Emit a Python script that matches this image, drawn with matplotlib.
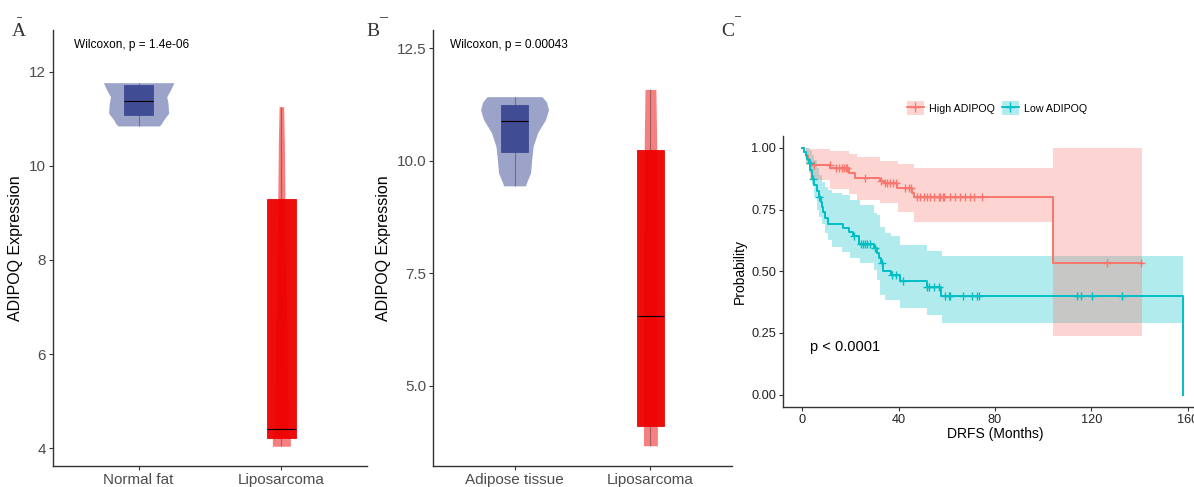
import numpy as np
import matplotlib
matplotlib.use("Agg")
import matplotlib.pyplot as plt
from matplotlib.lines import Line2D
from matplotlib.patches import Patch

plt.rcParams["font.family"] = ["Liberation Sans", "DejaVu Sans"]

W, H = 1194, 487

# ---- panel A / B : violin + box data ----
a_groups = ["Normal fat", "Liposarcoma"]
a_box = [(11.08, 11.38, 11.71), (4.21, 4.40, 9.30)]       # q1, median, q3
a_violin_y = [
    [10.85, 10.90, 10.98, 11.12, 11.33, 11.47, 11.62, 11.77],
    [4.04, 4.21, 4.30, 9.20, 9.30, 10.50, 11.26],
]
a_violin_hw = [
    [0.145, 0.160, 0.175, 0.210, 0.206, 0.197, 0.224, 0.247],
    [0.063, 0.063, 0.050, 0.026, 0.025, 0.021, 0.016],
]
a_p = "Wilcoxon, p = 1.4e-06"

b_groups = ["Adipose tissue", "Liposarcoma"]
b_box = [(10.20, 10.87, 11.24), (4.11, 6.56, 10.23)]
b_violin_y = [
    [9.44, 9.54, 9.73, 10.02, 10.32, 10.62, 10.91, 11.13, 11.30, 11.42],
    [3.67, 4.10, 4.20, 10.20, 10.30, 11.58],
]
b_violin_hw = [
    [0.080, 0.092, 0.118, 0.126, 0.137, 0.170, 0.228, 0.250, 0.235, 0.202],
    [0.051, 0.051, 0.050, 0.047, 0.046, 0.040],
]
b_p = "Wilcoxon, p = 0.00043"

group_colors = ["#3B4992", "#EE0000"]

# ---- panel C : Kaplan-Meier data ----
hi_t = [0, 0.8, 1.6, 2.4, 3.2, 4.0, 11.6, 19.3, 22.0, 32.4, 33.8, 39.5, 45.6, 46.4, 104.0]
hi_s = [1.0, 0.984, 0.968, 0.952, 0.938, 0.930, 0.918, 0.897, 0.877, 0.864, 0.856, 0.837, 0.818, 0.800, 0.533]
hi_end = 141.0
hi_cens = [5.0, 11.5, 13.8, 15.2, 16.5, 17.5, 18.0, 18.6, 26.2, 32.8, 34.5, 35.3, 36.6, 37.8,
           39.0, 42.8, 44.1, 45.1, 47.6, 49.0, 50.7, 51.8, 53.2, 54.6, 56.6, 57.3, 58.4, 59.0,
           61.5, 63.6, 65.6, 67.7, 69.5, 71.2, 74.6, 126.6, 140.6]
hi_ci_t = [0, 1.6, 3.2, 11.6, 19.3, 22.7, 32.4, 39.8, 46.3, 104.0, 141.0]
hi_ci_up = [1.0, 1.0, 0.995, 0.988, 0.975, 0.962, 0.948, 0.934, 0.920, 1.0, 1.0]
hi_ci_lo = [1.0, 0.93, 0.87, 0.835, 0.815, 0.79, 0.775, 0.742, 0.698, 0.239, 0.239]

lo_t = [0, 0.7, 1.4, 2.1, 2.8, 3.4, 4.0, 5.0, 6.0, 7.0, 7.6, 8.2, 8.8, 9.4, 10.5, 16.8, 19.2,
        21.0, 23.6, 29.9, 31.2, 32.0, 32.8, 33.6, 36.8, 40.7, 51.8, 57.6, 158.2]
lo_s = [1.0, 0.985, 0.97, 0.955, 0.94, 0.91, 0.875, 0.85, 0.825, 0.80, 0.78, 0.76, 0.74, 0.715,
        0.69, 0.675, 0.66, 0.645, 0.61, 0.595, 0.575, 0.555, 0.535, 0.50, 0.485, 0.459, 0.436,
        0.401, 0.0]
lo_cens = [3.0, 4.3, 7.0, 21.3, 24.4, 25.2, 26.2, 26.9, 28.3, 30.3, 33.1, 37.3, 39.0, 41.8,
           51.8, 52.5, 54.6, 56.6, 59.4, 60.8, 61.5, 66.8, 70.5, 72.6, 73.3, 114.1, 115.5,
           120.4, 132.8]
lo_ci_t = [0, 1.4, 2.8, 4.0, 5.0, 6.0, 7.0, 8.2, 9.6, 10.5, 12.3, 16.5, 19.9, 24.1, 29.9, 31.0,
           32.4, 34.5, 36.8, 40.7, 51.8, 58.0, 158.2]
lo_ci_lo = [1.0, 0.94, 0.9, 0.85, 0.8, 0.75, 0.72, 0.69, 0.655, 0.625, 0.6, 0.58, 0.553, 0.533,
            0.506, 0.466, 0.405, 0.385, 0.385, 0.351, 0.324, 0.29, 0.29]
lo_ci_up = [1.0, 1.0, 0.99, 0.97, 0.95, 0.92, 0.89, 0.86, 0.84, 0.83, 0.818, 0.81, 0.79, 0.77,
            0.736, 0.729, 0.68, 0.655, 0.642, 0.607, 0.584, 0.56, 0.56]

km_labels = ["High ADIPOQ", "Low ADIPOQ"]
km_colors = ["#F8766D", "#00BFC4"]

fig = plt.figure(figsize=(W / 100, H / 100), dpi=100)


def style_axes(ax, tick_size, tick_color):
    for s in ["top", "right"]:
        ax.spines[s].set_visible(False)
    for s in ["left", "bottom"]:
        ax.spines[s].set_color("#333333")
        ax.spines[s].set_linewidth(1.0)
    ax.tick_params(length=3, width=0.8, color="#333333", labelsize=tick_size,
                   labelcolor=tick_color, pad=2)


def violin_panel(ax, groups, boxes, vys, vhws, ptxt, ylim, yticks, ylabels):
    for i, (name, box, vy, vhw) in enumerate(zip(groups, boxes, vys, vhws)):
        pos = i + 1
        col = group_colors[i]
        vy = np.array(vy)
        vhw = np.array(vhw)
        ax.fill_betweenx(vy, pos - vhw, pos + vhw, color=col, alpha=0.5, lw=0, zorder=1)
        ax.vlines(pos, vy.min(), vy.max(), color="#333333", alpha=0.45, lw=0.8, zorder=2)
        q1, med, q3 = box
        ax.bar(pos, q3 - q1, bottom=q1, width=0.2, color=col, alpha=0.95,
               edgecolor=col, linewidth=0.6, zorder=3)
        ax.hlines(med, pos - 0.1, pos + 0.1, color="black", lw=0.8, zorder=4)
    ax.set_xlim(0.4, 2.6)
    ax.set_ylim(*ylim)
    ax.set_xticks([1, 2])
    ax.set_xticklabels(groups)
    ax.set_yticks(yticks)
    ax.set_yticklabels(ylabels)
    ax.set_ylabel("ADIPOQ Expression", fontsize=11.5, labelpad=4)
    style_axes(ax, 11, "#4D4D4D")
    return ax


axA = fig.add_axes([53 / W, 21 / H, 314 / W, 436 / H])
violin_panel(axA, a_groups, a_box, a_violin_y, a_violin_hw, a_p, (3.62, 12.89),
             [4, 6, 8, 10, 12], ["4", "6", "8", "10", "12"])
axA.text(0.547, 12.57, a_p, fontsize=8.6, va="center", ha="left")

axB = fig.add_axes([433 / W, 21 / H, 299 / W, 436 / H])
violin_panel(axB, b_groups, b_box, b_violin_y, b_violin_hw, b_p, (3.22, 12.9),
             [5.0, 7.5, 10.0, 12.5], ["5.0", "7.5", "10.0", "12.5"])
axB.text(0.525, 12.57, b_p, fontsize=8.6, va="center", ha="left")

# ---- panel C ----
axC = fig.add_axes([783 / W, 80 / H, 424 / W, 271.4 / H])
km = [
    (hi_t, hi_s, hi_end, hi_cens, hi_ci_t, hi_ci_lo, hi_ci_up),
    (lo_t, lo_s, None, lo_cens, lo_ci_t, lo_ci_lo, lo_ci_up),
]
# bands first (low under high)
for k in [1, 0]:
    t, s, end, cens, ct, clo, cup = km[k]
    axC.fill_between(ct, clo, cup, step="post", color=km_colors[k], alpha=0.3, lw=0, zorder=1)
for k in [0, 1]:
    t, s, end, cens, ct, clo, cup = km[k]
    tt = list(t)
    ss = list(s)
    if end is not None:
        tt.append(end)
        ss.append(ss[-1])
    axC.step(tt, ss, where="post", color=km_colors[k], lw=1.4, zorder=3)
    idx = np.searchsorted(np.array(t), np.array(cens), side="right") - 1
    axC.plot(cens, np.array(s)[idx], ls="none", marker="+", ms=6, mew=1.0,
             color=km_colors[k], zorder=4)

axC.set_xlim(-8, 168)
axC.set_ylim(-0.05, 1.05)
axC.set_xticks([0, 40, 80, 120, 160])
axC.set_yticks([0, 0.25, 0.5, 0.75, 1.0])
axC.set_yticklabels(["0.00", "0.25", "0.50", "0.75", "1.00"])
axC.set_xlabel("DRFS (Months)", fontsize=10, labelpad=1)
axC.set_ylabel("Probability", fontsize=10, labelpad=3)
style_axes(axC, 9.2, "#222222")
axC.text(3.3, 0.195, "p < 0.0001", fontsize=10.5, va="center", ha="left")

handles = [
    (Patch(facecolor=c, alpha=0.3, edgecolor="none"),
     Line2D([], [], color=c, lw=1.3, marker="+", ms=7, mew=1.0))
    for c in km_colors
]
fig.legend(handles, km_labels, loc="center", bbox_to_anchor=(997 / W, 1 - 108 / H),
           ncol=2, frameon=False, fontsize=7.7, handlelength=1.6, handleheight=1.5,
           columnspacing=0.6, handletextpad=0.5)

# panel letters
for lbl, x, y in [("A", 19, 32), ("B", 373, 32), ("C", 728, 31)]:
    fig.text(x / W, 1 - y / H, lbl, family=["Liberation Serif", "DejaVu Serif"],
             fontsize=14, color="#333333", ha="center", va="center")
for x0, x1, y in [(17, 21, 17), (380, 387, 17), (735, 740, 16)]:
    fig.add_artist(Line2D([x0 / W, x1 / W], [1 - y / H, 1 - y / H], color="#555555", lw=0.7))

fig.savefig("out.png", dpi=100)
